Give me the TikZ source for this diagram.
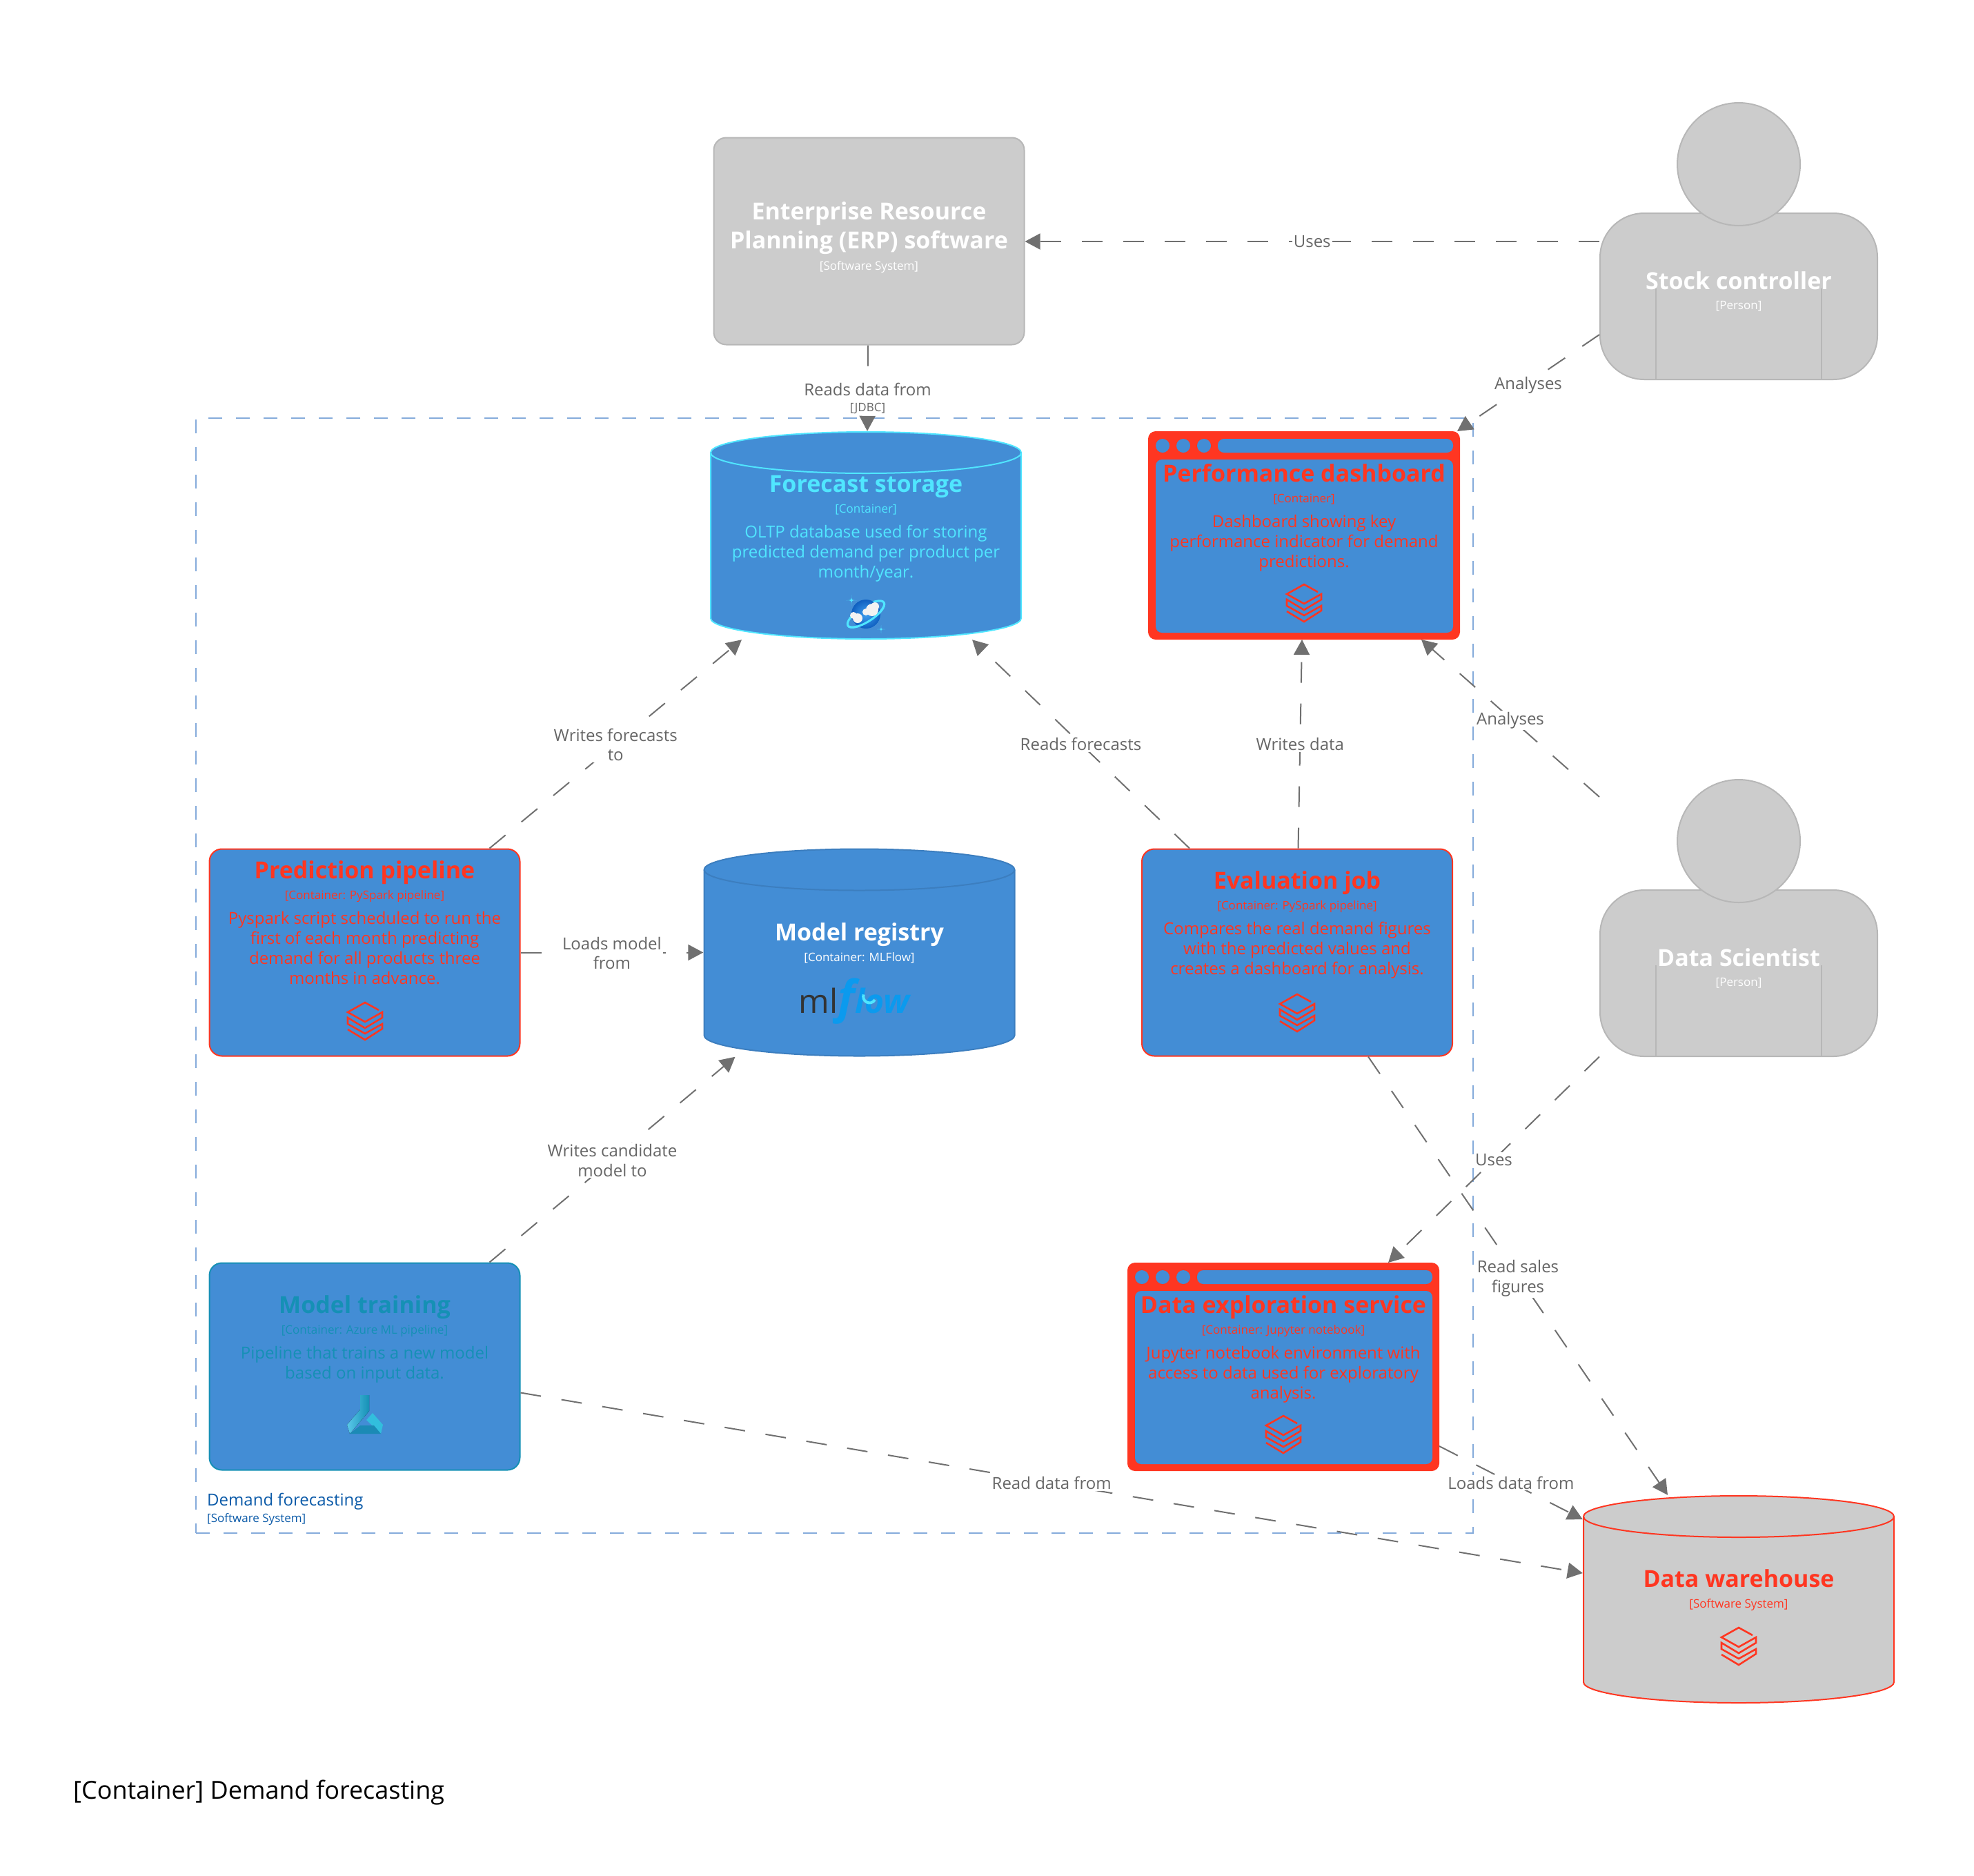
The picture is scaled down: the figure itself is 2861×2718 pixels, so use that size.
\documentclass[tikz,border=0pt]{standalone}
\usepackage{fontspec}
\setmainfont{Open Sans}
\usetikzlibrary{arrows.meta}

\definecolor{containerblue}{HTML}{438DD5}
\definecolor{containerred}{HTML}{FF3621}
\definecolor{storagecyan}{HTML}{50E6FF}
\definecolor{registryedge}{HTML}{3C7EBF}
\definecolor{trainingteal}{HTML}{1590B5}
\definecolor{externalgray}{HTML}{CCCCCC}
\definecolor{externaledge}{HTML}{B7B7B7}
\definecolor{relgray}{HTML}{707070}
\definecolor{reltext}{HTML}{666666}
\definecolor{boundaryblue}{HTML}{85ABDB}
\definecolor{boundarytext}{HTML}{0B5AA8}
\definecolor{mlflowblue}{HTML}{0B9AEE}
\definecolor{flasklight}{HTML}{5AC8EA}
\definecolor{flaskmid}{HTML}{32BEDD}
\definecolor{flaskdark}{HTML}{1B8AB5}
\definecolor{globelight}{HTML}{3FA0F0}
\definecolor{globedark}{HTML}{0F5FC0}

\newcommand{\nametext}[1]{{\fontsize{34}{40}\selectfont\bfseries\strut #1}}
\newcommand{\metatext}[1]{{\fontsize{17}{20}\selectfont #1}}

\tikzset{
    box/.style={rectangle,rounded corners=18pt,minimum width=450pt,minimum height=300pt,line width=2pt},
    windowbox/.style={rectangle,rounded corners=10pt,minimum width=450pt,minimum height=300pt,line width=2pt,draw=containerred,fill=containerred},
    cylbox/.style 2 args={rectangle,minimum width=452pt,minimum height=302pt,inner sep=0pt,path picture={
        \draw[line width=2pt,draw=#2,fill=#1] ([xshift=1pt,yshift=-31pt]path picture bounding box.north west)
            arc [start angle=180,end angle=0,x radius=225pt,y radius=30pt]
            -- ([xshift=-1pt,yshift=31pt]path picture bounding box.south east)
            arc [start angle=360,end angle=180,x radius=225pt,y radius=30pt] -- cycle;
        \draw[line width=2pt,draw=#2] ([xshift=1pt,yshift=-31pt]path picture bounding box.north west)
            arc [start angle=180,end angle=360,x radius=225pt,y radius=30pt];
    }},
    boxlabel/.style={align=center,anchor=north,inner sep=0pt,font=\fontsize{24}{28.8}\selectfont},
    rel/.style={draw=relgray,line width=2pt,dash pattern=on 30pt off 30pt,-{Triangle[length=22pt,width=23pt,fill=relgray]}},
    rellabel/.style={fill=white,text=reltext,align=center,inner sep=2pt,font=\fontsize{24}{28.8}\selectfont},
    stackicon/.pic={
        \draw[containerred,line width=2.6pt] (20,11) -- (0,0) -- (-25,14) -- (0,28) -- (25,14) -- (25,22) -- (0,37) -- (-25,22)
            -- (-25,31) -- (0,45) -- (25,31) -- (25,38) -- (0,54) -- (-25,39);
    }
}

\begin{document}
\begin{tikzpicture}[x=1pt,y=-1pt]
    \useasboundingbox (0,0) rectangle (2861,2718);

    \node[rectangle,draw=boundaryblue,line width=2pt,dash pattern=on 20pt off 20pt,minimum width=1851pt,minimum height=1616pt] (demand) at (1209.5,1414) {};
    \node[anchor=north west,inner sep=0pt,align=left,text=boundarytext,font=\fontsize{24}{28.8}\selectfont] (demandlabel) at (300,2164) {Demand forecasting\\[-5pt]\metatext{[Software System]}};

    \node[box,draw=externaledge,fill=externalgray] (erp) at (1259.5,349.5) {};
    \node[boxlabel,text=white] (erplabel) at (1259.5,290) {\nametext{Enterprise Resource}\\[1pt]\nametext{Planning (ERP) software}\\[2pt]\metatext{[Software System]}};

    \foreach \person/\y/\persontext in {stock/0/Stock controller,scientist/981/Data Scientist}
    {
      \node[rectangle,rounded corners=64pt,draw=externaledge,fill=externalgray,line width=2pt,minimum width=402pt,minimum height=241pt] (\person) at (2520,429.5+\y) {};
      \draw[externaledge,line width=2pt] ([xshift=-120pt,yshift=133pt]\person.south) -- ([xshift=-120pt]\person.south);
      \draw[externaledge,line width=2pt] ([xshift=120pt,yshift=133pt]\person.south) -- ([xshift=120pt]\person.south);
      \node[circle,draw=externaledge,fill=externalgray,line width=2pt,minimum size=178pt,inner sep=0pt] (\person head) at (2520,238+\y) {};
      \node[boxlabel,text=white] (\person label) at (2520,391+\y) {\nametext{\persontext}\\[0pt]\metatext{[Person]}};
    }

    \node[cylbox={containerblue}{storagecyan}] (forecast) at (1255,776) {};
    \node[boxlabel,text=storagecyan] (forecastlabel) at (1255,685) {\nametext{Forecast storage}\\[1pt]\metatext{[Container]}\\[8pt]OLTP database used for storing\\predicted demand per product per\\month/year.};

    \node[cylbox={containerblue}{registryedge}] (registry) at (1245.5,1380.5) {};
    \node[boxlabel,text=white] (registrylabel) at (1245.5,1335) {\nametext{Model registry}\\[1pt]\metatext{[Container: MLFlow]}};
    \node[inner sep=0pt,text=black!80,font=\fontsize{48}{48}\selectfont] (mlflowlogo) at (1238,1451) {ml{\bfseries\itshape\color{mlflowblue}{\fontsize{66}{66}\selectfont f}low}};
    \draw[storagecyan,line width=4pt] (1268,1449) arc (-30:-200:9pt);

    \node[cylbox={externalgray}{containerred}] (warehouse) at (2520,2318) {};
    \node[boxlabel,text=containerred] (warehouselabel) at (2520,2272) {\nametext{Data warehouse}\\[1pt]\metatext{[Software System]}};

    \node[box,draw=containerred,fill=containerblue] (prediction) at (528.5,1380.5) {};
    \node[boxlabel,text=containerred] (predictionlabel) at (528.5,1245) {\nametext{Prediction pipeline}\\[1pt]\metatext{[Container: PySpark pipeline]}\\[8pt]Pyspark script scheduled to run the\\first of each month predicting\\demand for all products three\\months in advance.};

    \node[box,draw=containerred,fill=containerblue] (evaluation) at (1880,1380.5) {};
    \node[boxlabel,text=containerred] (evaluationlabel) at (1880,1260) {\nametext{Evaluation job}\\[1pt]\metatext{[Container: PySpark pipeline]}\\[8pt]Compares the real demand figures\\with the predicted values and\\creates a dashboard for analysis.};

    \node[box,draw=trainingteal,fill=containerblue] (training) at (528.5,1980.5) {};
    \node[boxlabel,text=trainingteal] (traininglabel) at (528.5,1875) {\nametext{Model training}\\[1pt]\metatext{[Container: Azure ML pipeline]}\\[8pt]Pipeline that trains a new model\\based on input data.};

    \node[windowbox] (dashboard) at (1890,776) {};
    \node[windowbox] (exploration) at (1860,1981) {};
    \foreach \window in {dashboard,exploration}
    {
      \foreach \x in {21,51,81}
      {
        \fill[containerblue] ([xshift=\x pt,yshift=-21pt]\window.north west) circle [radius=10pt];
      }
      \fill[containerblue,rounded corners=9pt] ([xshift=101pt,yshift=-11pt]\window.north west) rectangle ([xshift=-10pt,yshift=-31pt]\window.north east);
      \fill[containerblue,rounded corners=9pt] ([xshift=11pt,yshift=-41pt]\window.north west) rectangle ([xshift=-10pt,yshift=10pt]\window.south east);
    }
    \node[boxlabel,text=containerred] (dashboardlabel) at (1890,670) {\nametext{Performance dashboard}\\[1pt]\metatext{[Container]}\\[8pt]Dashboard showing key\\performance indicator for demand\\predictions.};
    \node[boxlabel,text=containerred] (explorationlabel) at (1860,1875) {\nametext{Data exploration service}\\[1pt]\metatext{[Container: Jupyter notebook]}\\[8pt]Jupyter notebook environment with\\access to data used for exploratory\\analysis.};

    \foreach \iconx/\icony in {1890/847,529/1453,1880/1441,1860/2052,2520/2359}
    {
      \pic at (\iconx,\icony) {stackicon};
    }

    \draw[storagecyan,line width=3pt,rotate around={33:(1255,890)}] (1255,890) ellipse [x radius=31pt,y radius=11pt];
    \shade[inner color=globelight,outer color=globedark] (1255,890) circle [radius=21pt];
    \draw[storagecyan,line width=3pt,rotate around={33:(1255,890)}] (1224,890) arc [start angle=180,end angle=360,x radius=31pt,y radius=11pt];
    \fill[white!95!black] (1264,884) circle [radius=9pt] (1255,887) circle [radius=5pt] (1268,879) circle [radius=6pt];
    \fill[white!95!black] (1243,896) circle [radius=7pt] (1237,892) circle [radius=5pt];
    \foreach \sx/\sy/\s in {1234/870/8,1277/912/6}
    {
      \fill[storagecyan] (\sx,\sy-\s) .. controls (\sx,\sy) .. (\sx+\s,\sy) .. controls (\sx,\sy) .. (\sx,\sy+\s) .. controls (\sx,\sy) .. (\sx-\s,\sy) .. controls (\sx,\sy) .. cycle;
    }

    \fill[left color=flasklight,right color=trainingteal] (522,2022) -- (535,2022) -- (535,2045) -- (507,2078) -- (503,2065) -- (522,2043) -- cycle;
    \fill[flaskmid] (540,2048) -- (555,2065) -- (552,2078) -- (531,2058) -- cycle;
    \fill[flaskdark] (522,2066) -- (542,2066) -- (552,2078) -- (507,2078) -- cycle;

    \draw[rel] ([yshift=79.5pt]stock.west) -- node[rellabel] {Uses} ([yshift=-0.5pt]erp.east);
    \draw[rel] ([xshift=-1.5pt]erp.south) -- node[rellabel,yshift=-14.5pt] {Reads data from\\[-6pt]\metatext{[JDBC]}} ([xshift=2pt]forecast.north);
    \draw[rel] ([yshift=-55.5pt]stock.west) -- node[rellabel,yshift=-3pt] {Analyses} ([xshift=-4pt]dashboard.north east);
    \draw[rel] ([xshift=181pt]prediction.north) -- node[rellabel,yshift=-1pt] {Writes forecasts\\to} ([xshift=-180pt]forecast.south);
    \draw[rel] ([xshift=-156pt]evaluation.north) -- node[rellabel] {Reads forecasts} ([xshift=154pt]forecast.south);
    \draw[rel] ([xshift=1.5pt]evaluation.north) -- node[rellabel] {Writes data} ([xshift=-3pt]dashboard.south);
    \draw[rel] ([yshift=255.5pt]scientist.west) -- node[rellabel,yshift=-3pt] {Analyses} ([xshift=170pt]dashboard.south);
    \draw[rel] (prediction.east) -- node[rellabel,yshift=-1pt] {Loads model\\from} (registry.west);
    \draw[rel] ([xshift=181pt]training.north) -- node[rellabel,yshift=-1pt] {Writes candidate\\model to} ([xshift=-180pt]registry.south);
    \draw[rel] ([yshift=-38pt]training.east) -- node[rellabel] {Read data from} ([yshift=38pt]warehouse.west);
    \draw[rel] ([yshift=-115pt]exploration.east) -- node[rellabel] {Loads data from} ([yshift=116pt]warehouse.west);
    \draw[rel] ([xshift=103pt]evaluation.south) -- node[rellabel,yshift=-3.5pt] {Read sales\\figures} ([xshift=-103pt]warehouse.north);
    \draw[rel] ([yshift=-121pt]scientist.west) -- node[rellabel] {Uses} ([xshift=152pt]exploration.north);

    \node[anchor=west,inner sep=0pt,text=black,font=\fontsize{36}{44}\selectfont] (diagramtitle) at (106,2598) {[Container] Demand forecasting};
\end{tikzpicture}
\end{document}
